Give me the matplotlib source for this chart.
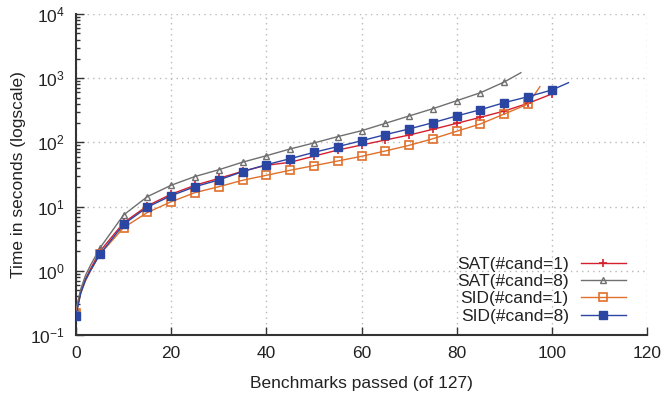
import matplotlib
matplotlib.use("Agg")
import matplotlib.pyplot as plt
from matplotlib.ticker import LogLocator, FixedLocator, NullFormatter

plt.rcParams['font.family'] = ['Liberation Sans', 'DejaVu Sans']
plt.rcParams['mathtext.fontset'] = 'custom'
plt.rcParams['mathtext.rm'] = 'Liberation Sans'
plt.rcParams['mathtext.it'] = 'Liberation Sans'
plt.rcParams['mathtext.default'] = 'regular'

# ---- data (benchmarks passed, cumulative time in seconds) ----
sat1_x = [0, 1, 2, 3, 5, 10, 15, 20, 25, 30, 35, 40, 45, 50, 55, 60, 65, 70, 75, 80, 85, 90, 95, 100]
sat1_y = [0.22, 0.47, 0.75, 1.05, 2.0, 5.6, 10.3, 15.6, 21.5, 27.5, 35.5, 44.0, 49.0, 61.0, 76.0, 91.0, 109.0, 130.0, 160.0, 198.0, 246.0, 308.0, 406.0, 568.0]

sat8_x = [0, 1, 2, 3, 5, 10, 15, 20, 25, 30, 35, 40, 45, 50, 55, 60, 65, 70, 75, 80, 85, 90, 93.5]
sat8_y = [0.25, 0.52, 0.85, 1.2, 2.25, 7.4, 14.3, 21.5, 29.4, 37.5, 49.2, 62.0, 79.0, 98.0, 123.0, 152.0, 198.0, 258.0, 335.0, 446.0, 594.0, 873.0, 1218.0]

sid1_x = [0, 1, 2, 3, 5, 10, 15, 20, 25, 30, 35, 40, 45, 50, 55, 60, 65, 70, 75, 80, 85, 90, 95, 97.5]
sid1_y = [0.22, 0.45, 0.7, 0.98, 1.8, 4.7, 8.1, 11.9, 16.5, 20.4, 25.7, 30.7, 36.8, 43.4, 51.3, 60.7, 73.5, 90.0, 114.0, 149.0, 194.0, 277.0, 396.0, 738.0]

sid8_x = [0, 1, 2, 3, 5, 10, 15, 20, 25, 30, 35, 40, 45, 50, 55, 60, 65, 70, 75, 80, 85, 90, 95, 100, 103.5]
sid8_y = [0.20, 0.45, 0.72, 1.0, 1.8, 5.3, 9.8, 14.8, 20.4, 26.0, 35.0, 45.0, 55.7, 70.0, 86.0, 106.0, 132.0, 162.0, 203.0, 258.0, 323.0, 416.0, 515.0, 655.0, 851.0]

labels = ["SAT(#cand=1)", "SAT(#cand=8)", "SID(#cand=1)", "SID(#cand=8)"]
x_ticks = [0, 20, 40, 60, 80, 100, 120]

fig = plt.figure(figsize=(6.62, 3.99), dpi=100)
ax = fig.add_axes([76/662, 64/399, 571/662, 321/399])

def marks(xs):
    return [i for i, v in enumerate(xs) if v % 5 == 0]

ax.plot(sat1_x, sat1_y, color='#d4202c', lw=1.0, marker='+', ms=6, mew=1.2,
        markevery=marks(sat1_x), label=labels[0], zorder=3)
ax.plot(sat8_x, sat8_y, color='#6f6f6f', lw=1.0, marker='^', ms=5, mew=1.0,
        mfc='none', markevery=marks(sat8_x), label=labels[1], zorder=3)
ax.plot(sid1_x, sid1_y, color='#e0702a', lw=1.0, marker='s', ms=5.5, mew=1.2,
        mfc='none', markevery=marks(sid1_x), label=labels[2], zorder=3)
ax.plot(sid8_x, sid8_y, color='#2b45a3', lw=1.0, marker='s', ms=6, mew=1.0,
        markevery=marks(sid8_x), label=labels[3], zorder=4)

ax.set_yscale('log')
ax.set_ylim(0.1, 1e4)
ax.set_xlim(0, 120)
ax.xaxis.set_major_locator(FixedLocator(x_ticks))
ax.yaxis.set_major_locator(LogLocator(base=10, numticks=10))
ax.yaxis.set_minor_locator(LogLocator(base=10, subs=range(2, 10), numticks=10))
ax.yaxis.set_minor_formatter(NullFormatter())

for s in ['top', 'right']:
    ax.spines[s].set_visible(False)
for s in ['left', 'bottom']:
    ax.spines[s].set_linewidth(1.5)
    ax.spines[s].set_color('#333333')

ax.tick_params(axis='both', which='major', direction='in', length=6, width=1.0,
               color='#333333', labelsize=12.5, labelcolor='#222222', pad=8)
ax.tick_params(axis='y', which='minor', direction='in', length=3, width=1.0, color='#333333')

ax.grid(True, which='major', linestyle=(0, (1, 3)), color='#b8b8b8', lw=1.0)
ax.set_axisbelow(True)

ax.set_xlabel("Benchmarks passed (of 127)", fontsize=12.5, color='#222222')
ax.set_ylabel("Time in seconds (logscale)", fontsize=12.5, color='#222222')
ax.xaxis.set_label_coords(0.5, -0.128)
ax.yaxis.set_label_coords(-0.088, 0.5)

leg = ax.legend(loc='lower right', bbox_to_anchor=(0.983, 0.0), frameon=False,
                markerfirst=False, fontsize=12.5, handlelength=2.6,
                labelspacing=0.12, handletextpad=0.7, borderaxespad=0.25)
for t in leg.get_texts():
    t.set_color('#222222')

fig.savefig("out.png", dpi=100)
